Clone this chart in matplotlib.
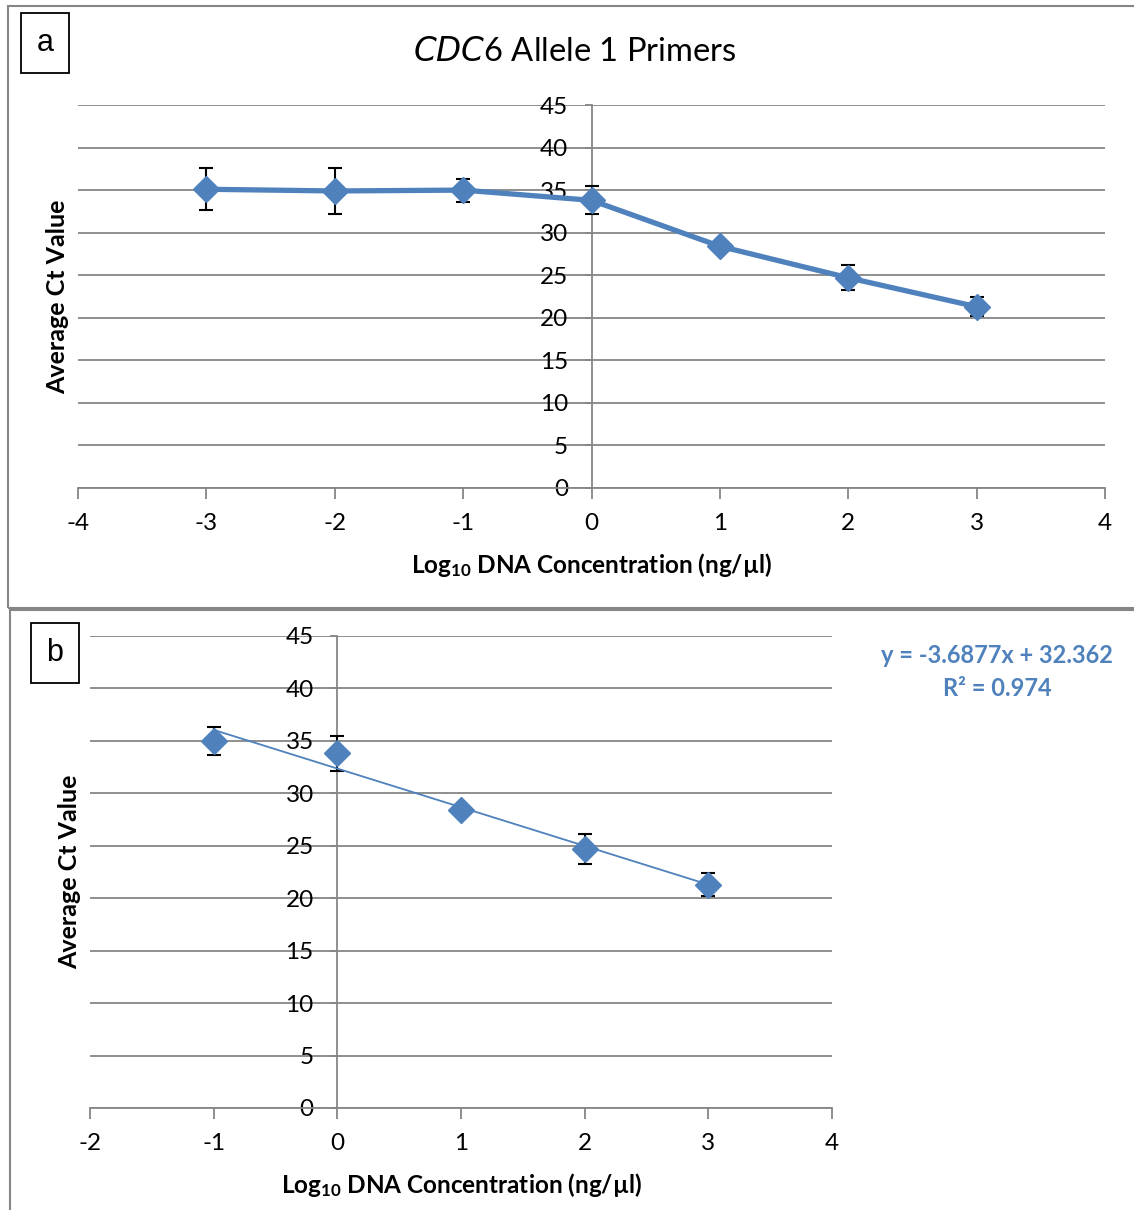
import matplotlib.pyplot as plt
import numpy as np
from matplotlib.patches import Rectangle

plt.rcParams['font.family'] = ['Lato', 'DejaVu Sans']
plt.rcParams['mathtext.fontset'] = 'custom'
plt.rcParams['mathtext.rm'] = 'Lato'
plt.rcParams['mathtext.bf'] = 'Lato:bold'
plt.rcParams['axes.unicode_minus'] = False

# Dilution series: log10 concentration vs average Ct
log_conc = np.array([-3, -2, -1, 0, 1, 2, 3])
ct_mean = np.array([35.1, 34.9, 35.0, 33.8, 28.4, 24.7, 21.3])
ct_err = np.array([2.45, 2.7, 1.35, 1.65, 0.5, 1.45, 1.1])

# Standard curve uses the linear range only
fit_idx = np.array([2, 3, 4, 5, 6])
slope = -3.6877
intercept = 32.362
r_squared = 0.974

blue = '#4F81BD'
grid_grey = '#868686'
yticks = np.arange(0, 50, 5)

fig = plt.figure(figsize=(11.34, 12.10), dpi=100)

# panel frames
fig.patches.append(Rectangle((8 / 1134, 1 - 608 / 1210), 1.2, 602 / 1210,
                             transform=fig.transFigure, fill=False,
                             edgecolor=grid_grey, linewidth=1.5))
fig.patches.append(Rectangle((10 / 1134, -0.1), 1.2, 0.1 + 1 - 610 / 1210,
                             transform=fig.transFigure, fill=False,
                             edgecolor=grid_grey, linewidth=1.5))


def style_axes(ax, xlim, xticks):
    ax.set_xlim(*xlim)
    ax.set_ylim(0, 45)
    ax.set_xticks(xticks)
    ax.set_yticks(yticks)
    ax.grid(axis='y', color=grid_grey, linewidth=1.3)
    ax.set_axisbelow(True)
    for s in ['top', 'right']:
        ax.spines[s].set_visible(False)
    ax.spines['left'].set_position(('data', 0))
    for s in ['left', 'bottom']:
        ax.spines[s].set_color(grid_grey)
        ax.spines[s].set_linewidth(1.3)
    ax.tick_params(axis='x', direction='out', length=8, width=1.3,
                   color=grid_grey, labelsize=17.5, pad=10)
    ax.tick_params(axis='y', direction='out', length=5, width=1.3,
                   color=grid_grey, labelsize=17.5, pad=12)
    ax.set_xlabel(r'$\mathbf{Log_{10}}$ DNA Concentration (ng/µl)',
                  fontsize=17.5, fontweight='bold', labelpad=12)
    ax.set_facecolor('none')


def panel_tag(x, y, letter):
    fig.text(x, y, letter, fontsize=22, family='Liberation Sans',
             ha='center', va='center',
             bbox=dict(boxstyle='square,pad=0.5', facecolor='white',
                       edgecolor='black', linewidth=1.3))


# panel a: full dilution series
ax1 = fig.add_axes([78 / 1134, 1 - 488 / 1210, 1027 / 1134, 383 / 1210])
style_axes(ax1, (-4, 4), np.arange(-4, 5, 1))
ax1.errorbar(log_conc, ct_mean, yerr=ct_err, color=blue, linewidth=3.8,
             marker='D', markersize=13, ecolor='black', elinewidth=1.5,
             capsize=5, capthick=1.5, zorder=3)
fig.text(58 / 1134, 1 - 297 / 1210, 'Average Ct Value', rotation=90,
         fontsize=18, fontweight='bold', ha='center', va='center')
fig.text(575 / 1134, 1 - 52 / 1210, r'$\it{CDC6}$ Allele 1 Primers',
         fontsize=23.5, ha='center', va='center')
panel_tag(45 / 1134, 1 - 43 / 1210, 'a')

# panel b: linear range with standard curve
ax2 = fig.add_axes([90 / 1134, 1 - 1108 / 1210, 742 / 1134, 472 / 1210])
style_axes(ax2, (-2, 4), np.arange(-2, 5, 1))
ax2.errorbar(log_conc[fit_idx], ct_mean[fit_idx], yerr=ct_err[fit_idx],
             color=blue, linestyle='none', marker='D', markersize=13,
             ecolor='black', elinewidth=1.5, capsize=5, capthick=1.5,
             zorder=3)
x_fit = np.array([log_conc[fit_idx].min(), log_conc[fit_idx].max()])
ax2.plot(x_fit, slope * x_fit + intercept, color=blue, linewidth=1.3,
         zorder=4)
fig.text(70 / 1134, 1 - 872 / 1210, 'Average Ct Value', rotation=90,
         fontsize=18, fontweight='bold', ha='center', va='center')
fig.text(997 / 1134, 1 - 656 / 1210,
         f'y = {slope}x + {intercept}', color=blue, fontsize=17,
         fontweight='bold', ha='center', va='center')
fig.text(997 / 1134, 1 - 689 / 1210, f'R² = {r_squared}', color=blue,
         fontsize=17, fontweight='bold', ha='center', va='center')
panel_tag(55 / 1134, 1 - 653 / 1210, 'b')

fig.savefig('out.png', dpi=100)
